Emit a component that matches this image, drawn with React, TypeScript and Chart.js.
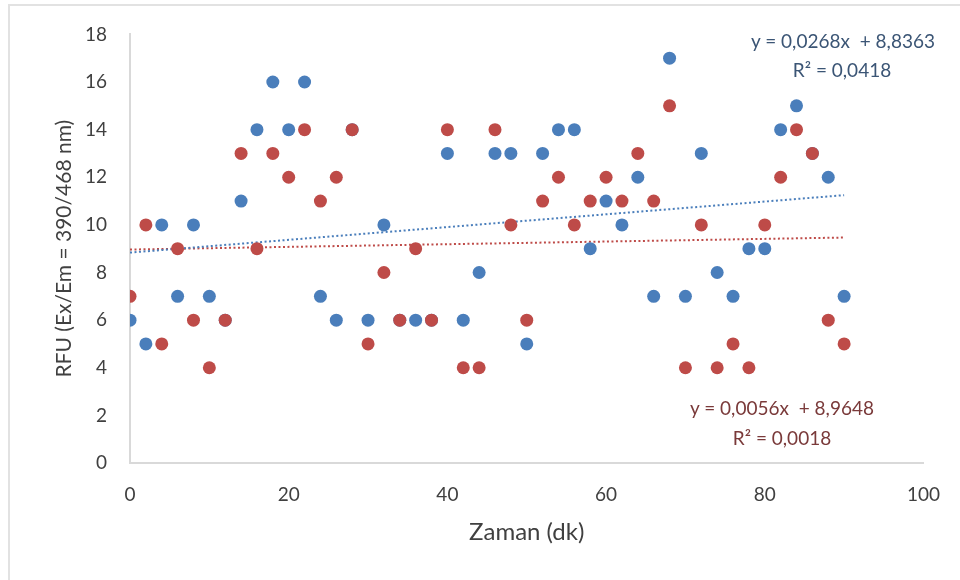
import React, { useEffect, useRef } from "react";
import { Chart, registerables } from "chart.js";

Chart.register(...registerables);

// ---- data ----
const times = [0, 2, 4, 6, 8, 10, 12, 14, 16, 18, 20, 22, 24, 26, 28, 30, 32, 34, 36, 38, 40, 42, 44, 46, 48, 50, 52, 54, 56, 58, 60, 62, 64, 66, 68, 70, 72, 74, 76, 78, 80, 82, 84, 86, 88, 90];
const blueValues = [6, 5, 10, 7, 10, 7, 6, 11, 14, 16, 14, 16, 7, 6, 14, 6, 10, 6, 6, 6, 13, 6, 8, 13, 13, 5, 13, 14, 14, 9, 11, 10, 12, 7, 17, 7, 13, 8, 7, 9, 9, 14, 15, 13, 12, 7];
const redValues = [7, 10, 5, 9, 6, 4, 6, 13, 9, 13, 12, 14, 11, 12, 14, 5, 8, 6, 9, 6, 14, 4, 4, 14, 10, 6, 11, 12, 10, 11, 12, 11, 13, 11, 15, 4, 10, 4, 5, 4, 10, 12, 14, 13, 6, 5];
const xTicks = [0, 20, 40, 60, 80, 100];
const yTicks = [0, 2, 4, 6, 8, 10, 12, 14, 16, 18];
const blueFitCoef = [0.0268, 8.8363];
const redFitCoef = [0.0056, 8.9648];
const blueFitLabels = ["y = 0,0268x  + 8,8363", "R\u00B2 = 0,0418"];
const redFitLabels = ["y = 0,0056x  + 8,9648", "R\u00B2 = 0,0018"];
const xTitle = "Zaman (dk)";
const yTitle = "RFU (Ex/Em = 390/468 nm)";

const BLUE = "#4A7EBB";
const RED = "#BE4B48";
const FONT = "Lato, 'Open Sans', sans-serif";

export default function App() {
  const canvasRef = useRef<HTMLCanvasElement | null>(null);

  useEffect(() => {
    const canvas = canvasRef.current;
    if (!canvas) return;
    const fitStart = times[0];
    const fitEnd = times[times.length - 1];
    const chart = new Chart(canvas, {
      type: "scatter",
      data: {
        datasets: [
          {
            label: "B",
            data: times.map((t, i) => ({ x: t, y: blueValues[i] })),
            backgroundColor: BLUE,
            borderColor: BLUE,
            pointRadius: 6.5,
            pointBorderWidth: 0,
            order: 2,
          },
          {
            label: "R",
            data: times.map((t, i) => ({ x: t, y: redValues[i] })),
            backgroundColor: RED,
            borderColor: RED,
            pointRadius: 6.5,
            pointBorderWidth: 0,
            order: 1,
          },
          {
            label: "Bfit",
            data: [fitStart, fitEnd].map((t) => ({ x: t, y: blueFitCoef[0] * t + blueFitCoef[1] })),
            showLine: true,
            borderColor: BLUE,
            borderWidth: 2,
            borderDash: [2, 2.5],
            pointRadius: 0,
            order: 3,
          },
          {
            label: "Rfit",
            data: [fitStart, fitEnd].map((t) => ({ x: t, y: redFitCoef[0] * t + redFitCoef[1] })),
            showLine: true,
            borderColor: RED,
            borderWidth: 2,
            borderDash: [2, 2.5],
            pointRadius: 0,
            order: 4,
          },
        ],
      },
      options: {
        responsive: false,
        animation: false,
        layout: { padding: { top: 32, right: 35, bottom: 0, left: 0 } },
        plugins: { legend: { display: false }, tooltip: { enabled: false } },
        scales: {
          x: {
            type: "linear",
            min: xTicks[0],
            max: xTicks[xTicks.length - 1],
            afterBuildTicks: (s: any) => {
              s.ticks = xTicks.map((v) => ({ value: v }));
            },
            afterFit: (s: any) => {
              s.height = 117;
            },
            grid: { display: false, drawTicks: false },
            border: { display: true, color: "#d9d9d9", width: 2 },
            ticks: {
              padding: 20,
              color: "#404040",
              font: { family: FONT, size: 19 },
              maxRotation: 0,
            },
            title: {
              display: true,
              text: xTitle,
              color: "#404040",
              font: { family: FONT, size: 24 },
              padding: { top: 0, bottom: 33 },
            },
          },
          y: {
            type: "linear",
            min: yTicks[0],
            max: yTicks[yTicks.length - 1],
            afterBuildTicks: (s: any) => {
              s.ticks = yTicks.map((v) => ({ value: v }));
            },
            afterFit: (s: any) => {
              s.width = 130;
            },
            grid: { display: false, drawTicks: false },
            border: { display: true, color: "#d9d9d9", width: 2 },
            ticks: {
              padding: 23,
              color: "#404040",
              font: { family: FONT, size: 19 },
            },
            title: {
              display: true,
              text: yTitle,
              color: "#404040",
              font: { family: FONT, size: 21 },
              padding: { top: 52, bottom: 0 },
            },
          },
        },
      },
    });
    return () => chart.destroy();
  }, []);

  const labelStyle = (color: string): React.CSSProperties => ({
    position: "absolute",
    transform: "translate(-50%, -50%)",
    whiteSpace: "pre",
    fontFamily: FONT,
    fontSize: 19,
    color,
    lineHeight: 1,
  });

  return (
    <div
      style={{
        position: "fixed",
        left: 0,
        top: 0,
        width: 960,
        height: 580,
        background: "#ffffff",
        overflow: "hidden",
      }}
    >
      <div
        style={{
          position: "absolute",
          left: 8,
          top: 4,
          width: 1000,
          height: 1000,
          borderLeft: "2px solid #e2e2e2",
          borderTop: "2px solid #e2e2e2",
        }}
      />
      <canvas ref={canvasRef} width={960} height={580} style={{ position: "absolute", left: 0, top: 0 }} />
      <div style={{ ...labelStyle("#3B5575"), left: 843, top: 40 }}>{blueFitLabels[0]}</div>
      <div style={{ ...labelStyle("#3B5575"), left: 842, top: 69 }}>{blueFitLabels[1]}</div>
      <div style={{ ...labelStyle("#7A3A3A"), left: 782, top: 407 }}>{redFitLabels[0]}</div>
      <div style={{ ...labelStyle("#7A3A3A"), left: 782, top: 437 }}>{redFitLabels[1]}</div>
    </div>
  );
}
